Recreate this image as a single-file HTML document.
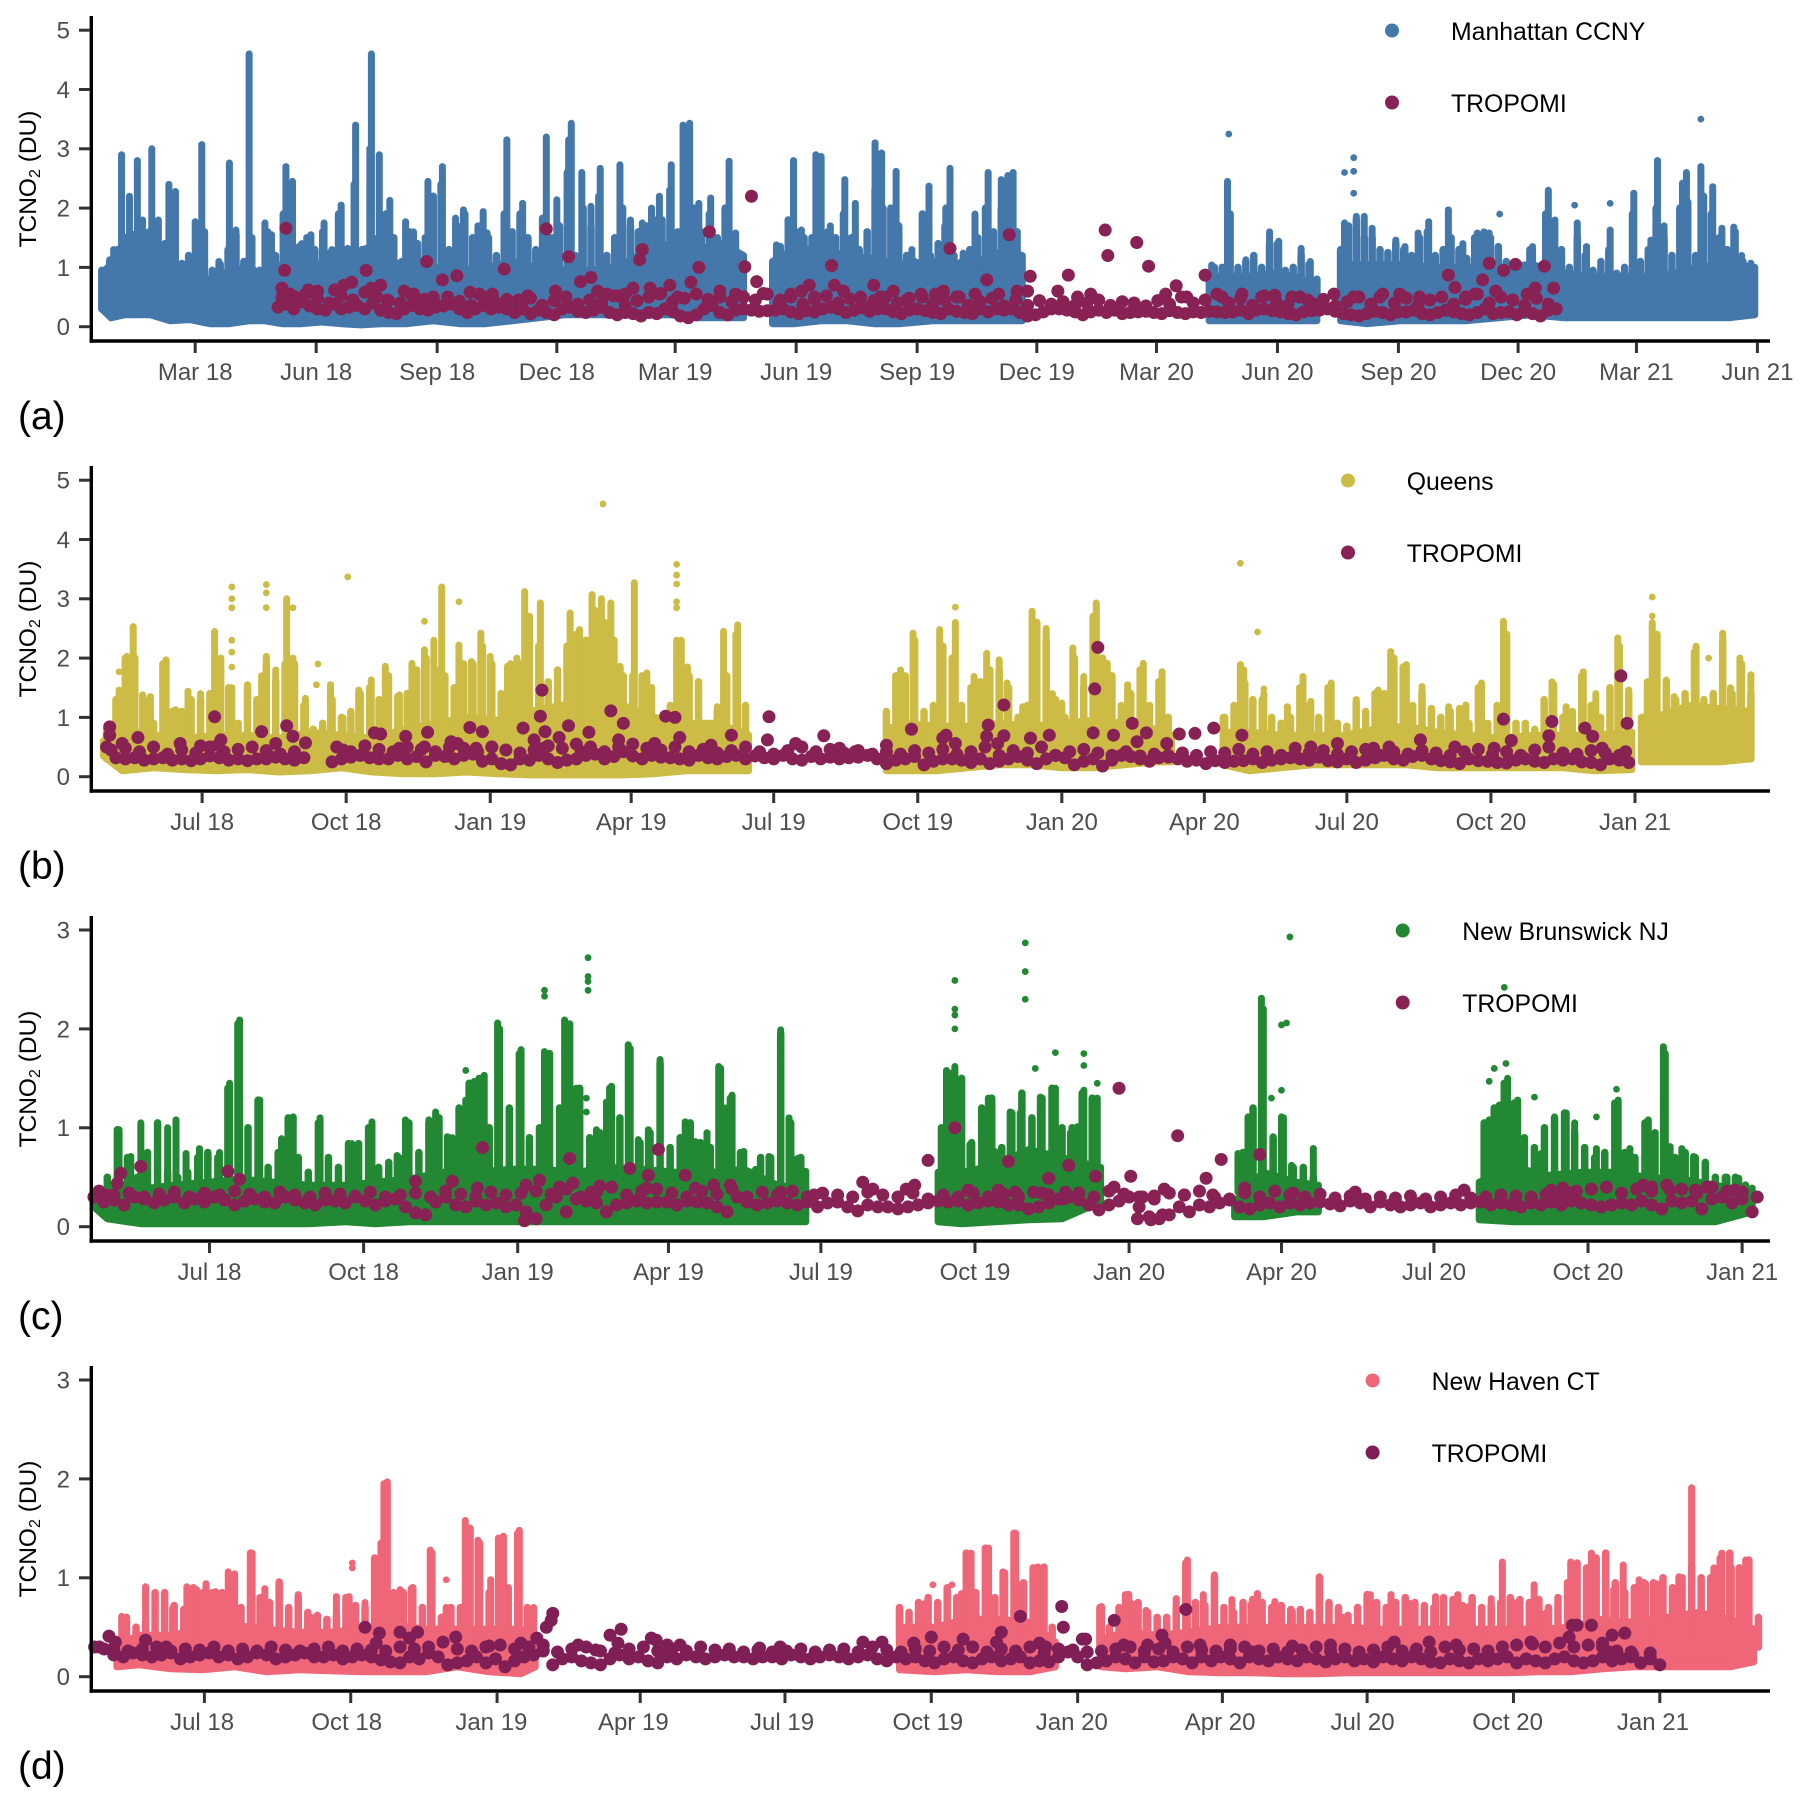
<!DOCTYPE html>
<html lang="en">
<head>
<meta charset="utf-8">
<title>TCNO2 time series at four stations with TROPOMI</title>
<style>
html,body{margin:0;padding:0;background:#fff}
svg{display:block}
text{font-family:"Liberation Sans",Arial,sans-serif}
.tick-label{font-size:24px;fill:#4d4d4d}
.legend-text{font-size:24.8px;fill:#000}
.axis-title{font-size:24.5px;fill:#000}
.panel-tag{font-size:39px;fill:#000}
</style>
</head>
<body>
<svg id="chart" xmlns="http://www.w3.org/2000/svg" width="1806" height="1803" viewBox="0 0 1806 1803">
<rect width="1806" height="1803" fill="#fff"/>

<g id="panel-a">
<g class="marks"></g>
<line x1="91.3" y1="16" x2="91.3" y2="342.7" stroke="#000" stroke-width="3.4"/>
<line x1="89.6" y1="341" x2="1770" y2="341" stroke="#000" stroke-width="3.4"/>
<g class="ticks"></g>
<text class="axis-title" text-anchor="middle" transform="translate(36,179) rotate(-90)">TCNO<tspan font-size="16" dy="4">2</tspan><tspan dy="-4"> (DU)</tspan></text>
<text class="panel-tag" x="18" y="429">(a)</text>
<circle cx="1392" cy="30.5" r="7" fill="#4477AA"/>
<text class="legend-text" x="1451" y="40">Manhattan CCNY</text>
<circle cx="1392" cy="102.5" r="7" fill="#882255"/>
<text class="legend-text" x="1451" y="112">TROPOMI</text>
</g>

<g id="panel-b">
<g class="marks"></g>
<line x1="91.3" y1="466" x2="91.3" y2="792.7" stroke="#000" stroke-width="3.4"/>
<line x1="89.6" y1="791" x2="1770" y2="791" stroke="#000" stroke-width="3.4"/>
<g class="ticks"></g>
<text class="axis-title" text-anchor="middle" transform="translate(36,629) rotate(-90)">TCNO<tspan font-size="16" dy="4">2</tspan><tspan dy="-4"> (DU)</tspan></text>
<text class="panel-tag" x="18" y="879">(b)</text>
<circle cx="1348" cy="480.5" r="7" fill="#CCBB44"/>
<text class="legend-text" x="1406.7" y="490">Queens</text>
<circle cx="1348" cy="552.5" r="7" fill="#882255"/>
<text class="legend-text" x="1406.7" y="562">TROPOMI</text>
</g>

<g id="panel-c">
<g class="marks"></g>
<line x1="91.3" y1="916" x2="91.3" y2="1242.7" stroke="#000" stroke-width="3.4"/>
<line x1="89.6" y1="1241" x2="1770" y2="1241" stroke="#000" stroke-width="3.4"/>
<g class="ticks"></g>
<text class="axis-title" text-anchor="middle" transform="translate(36,1079) rotate(-90)">TCNO<tspan font-size="16" dy="4">2</tspan><tspan dy="-4"> (DU)</tspan></text>
<text class="panel-tag" x="18" y="1329">(c)</text>
<circle cx="1402.7" cy="930.5" r="7" fill="#228833"/>
<text class="legend-text" x="1462.2" y="940">New Brunswick NJ</text>
<circle cx="1402.7" cy="1002.5" r="7" fill="#882255"/>
<text class="legend-text" x="1462.2" y="1012">TROPOMI</text>
</g>

<g id="panel-d">
<g class="marks"></g>
<line x1="91.3" y1="1366" x2="91.3" y2="1692.7" stroke="#000" stroke-width="3.4"/>
<line x1="89.6" y1="1691" x2="1770" y2="1691" stroke="#000" stroke-width="3.4"/>
<g class="ticks"></g>
<text class="axis-title" text-anchor="middle" transform="translate(36,1529) rotate(-90)">TCNO<tspan font-size="16" dy="4">2</tspan><tspan dy="-4"> (DU)</tspan></text>
<text class="panel-tag" x="18" y="1779">(d)</text>
<circle cx="1372.6" cy="1380.5" r="7" fill="#EE6677"/>
<text class="legend-text" x="1431.6" y="1390">New Haven CT</text>
<circle cx="1372.6" cy="1452.5" r="7" fill="#7F1F56"/>
<text class="legend-text" x="1431.6" y="1462">TROPOMI</text>
</g>
</svg>

<script>
// Days are counted from 2018-01-01. Values are TCNO2 in DU.

// ---------- Panel (a) Manhattan CCNY ----------
const aTickDates=["2018-03-01","2018-06-01","2018-09-01","2018-12-01","2019-03-01","2019-06-01","2019-09-01","2019-12-01","2020-03-01","2020-06-01","2020-09-01","2020-12-01","2021-03-01","2021-06-01"];
const aTickLabels=["Mar 18","Jun 18","Sep 18","Dec 18","Mar 19","Jun 19","Sep 19","Dec 19","Mar 20","Jun 20","Sep 20","Dec 20","Mar 21","Jun 21"];
const aValueTicks=[0,1,2,3,4,5];
const aBandDays=[-12,-5,5,15,25,40,55,70,85,100,112,125,140,155,170,185,200,220,240,260,280,300,320,340,360,380,400,420,440,460,476,null,
498,515,535,555,575,595,620,650,675,688,null,830,845,860,880,895,912,null,930,950,975,1000,1025,1050,1075,1100,1125,1150,1175,1200,1225,1245];
const aBandHigh=[.9,1.05,1.15,1.1,1,1,.85,.8,.95,1,.85,1.05,1.1,1.05,.95,1.1,1.1,1.05,1,.95,1,1.1,1,.95,.95,1,1.25,1.4,1.3,1.4,1.2,null,
1.1,1.3,1.3,1.2,1.15,1.05,1.1,1.05,1.3,1.2,null,.85,.85,.85,.9,.85,.7,null,1.05,1.05,1.05,1,1,1,1.05,.9,.85,.85,.85,1,1.05,1];
const aBandLow=[.3,.15,.2,.2,.2,.1,.12,.05,.05,.1,.1,.05,.05,.08,.05,.03,.05,.05,.1,.05,.05,.1,.15,.2,.2,.2,.2,.2,.15,.15,.15,null,
.05,.05,.1,.1,.05,.05,.1,.1,.1,.1,null,.1,.1,.1,.1,.1,.1,null,.1,.05,.1,.1,.1,.15,.2,.15,.15,.15,.15,.15,.15,.2];
const aRidgeStartDay=-12;
const aRidgeStepDays=6;
const aRidgeHigh=[.95,1.1,1.3,1.5,1.55,1.5,1.6,1.3,1.4,1.55,
1.05,1.2,1.7,1.6,.95,1.05,1.3,1.55,1.1,1.5,
.95,1.6,1.2,1.9,1.9,1.35,1.5,1.3,1.6,1.25,
1.9,1.3,2.4,1.3,3,1.5,1.9,1.5,1.1,1.6,
1.4,1.5,2.2,2.4,1.3,1.7,1.9,1.5,1.7,1.5,
1.2,1.9,1.6,1.9,1.5,1.3,1.8,1.5,1.7,2.6,
1.2,2,1.7,2.2,1.2,1.5,2,1.7,1.6,1.7,
1.8,1.8,2.3,1.6,2.8,2,1.6,1.9,1.5,2,
1.5,1.2,null,null,null,null,1.35,1.8,1.6,1.5,
1.5,2,1.6,1.5,1.9,1.5,1.3,1.6,2.3,2,
2,1.7,1.2,1.1,1.9,1.2,1.4,2,1.2,1.1,
1.3,1.5,2,1.6,2,2.2,1.6,null,null,null,
null,null,null,null,null,null,null,null,null,null,
null,null,null,null,null,null,null,null,null,null,
null,1,1,1.9,1,1.1,1.2,1,1.4,1.4,
.95,1,1.2,1.05,.8,null,null,1.3,1.7,1.8,
1.5,1.5,1.3,1.25,1.4,1.3,1.2,1.5,1.6,1.2,
1.3,1.5,1.3,1.15,1.5,1.5,1.5,1.35,1.1,1.05,
1,1.3,1,1.9,1.7,1.3,1,1.5,1.2,.95,
1.1,1.3,.9,1,1.9,1.1,1.3,2,1.5,1.2,
2,2.1,1.2,2.2,1.9,1.5,1.3,1.6,1.1,1.05];
const aSpikeDays=[-6,-3,3,9,15,19,26,31,39,44,
49,59,64,77,85,90,100,112,117,128,
133,140,147,157,163,170,175,181,189,193,
199,207,219,225,236,247,257,263,274,278,
281,296,308,323,326,334,343,345,353,360,
367,382,390,399,406,412,421,430,435,442,
451,465,470,501,514,520,531,535,542,553,
561,576,581,592,604,617,629,633,643,652,
662,672,677,681,685,832,844,858,864,876,
883,893,900,907,933,942,948,954,972,979,
989,997,1012,1023,1034,1039,1043,1076,1088,1093,
1110,1117,1135,1153,1166,1171,1176,1190,1193,1204,
1213,1220,1229,1235,1242];
const aSpikeHigh=[1.13,1.3,2.9,2.2,2.8,1.8,3,1.8,2.4,2.28,
1.07,1.77,3.07,1.1,2.76,1.63,4.6,1.75,1.55,2.7,
2.45,1.4,1.55,1.75,1.3,2.05,1.32,3.4,1.32,4.6,
2.9,2.13,1.77,1.6,2.45,2.7,1.83,1.97,1.7,1.94,
1.58,3.15,2.08,1.83,3.2,2.14,3.15,3.43,2.6,2.03,
2.67,2.73,1.8,1.75,2,2.2,2.73,3.4,3.43,2.08,
2.17,2.79,1.58,1.38,2.8,1.63,2.9,2.87,1.7,2.48,
2.08,3.1,2.93,2.62,1.3,2.37,1.7,2.67,1.24,1.9,
2.6,2.48,2.55,2.6,1.1,1.04,2.45,1.13,1.18,1.6,
1.44,.87,1.32,1.1,1.75,1.86,1.86,1.66,1.46,1.35,
1.58,1.77,1.97,1.4,1.58,1.6,1.58,1.35,2.3,1.8,
1.75,1.35,1.63,2.25,1.46,2.8,1.7,2.42,2.6,2.7,
2.36,1.66,1.68,1.2,1.07];
const aOutlierDays=[845,933,940,940,940,1204,1051,1108,1135,1012,1153,1171];
const aOutlierValues=[3.25,2.6,2.85,2.62,2.25,3.5,1.9,2.05,2.08,1.97,2.25,2.8];
const aSatStartDay=122;
const aSatStepDays=6;
const aSatBase=[.33,.38,.3,.42,.35,.3,.28,.38,.3,.33,
.36,.3,.4,.28,.24,.22,.3,.36,.3,.28,
.33,.35,.38,.3,.24,.3,.36,.3,.33,.3,
.24,.3,.22,.28,.24,.2,.3,.33,.26,.24,
.28,.33,.24,.2,.24,.22,.18,.24,.22,.3,
.26,.18,.15,.2,.3,.36,.24,.2,.28,.3,
.28,.26,.27,.28,.3,.25,.22,.27,.25,.3,
.33,.3,.24,.28,.32,.26,.3,.3,.25,.22,
.28,.3,.27,.24,.22,.3,.26,.24,.22,.3,
.25,.3,.28,.3,.24,.18,.2,.25,.3,.3,
.28,.25,.2,.25,.28,.24,.28,.22,.24,.25,
.26,.24,.22,.27,.24,.22,.25,.24,.26,.25,
.24,.25,.28,.22,.28,.3,.27,.25,.22,.2,
.25,.27,.28,.3,.26,.22,.2,.18,.22,.26,
.24,.2,.25,.25,.28,.22,.2,.24,.28,.25,
.22,.2,.24,.3,.22,.24,.25,.2,.26,.22,
.18,.28,.3];
const aSatUpperStartDay=125;
const aSatUpperStepDays=9;
const aSatUpper=[.5,.42,.55,.48,.4,.52,.45,.58,.5,.44,
.4,.52,.46,.38,.5,.43,.36,.5,.42,.46,
.4,.48,.36,.44,.5,.38,.45,.4,.52,.36,
.44,.5,.56,.42,.48,.55,.46,.6,.42,.5,
.45,.55,.4,.5,.38,.46,.52,.4,.47,.36,
.44,.5,.4,.48,.55,.38,.45,.5,.36,.42,
.48,.35,.45,.36,.44,.38,.42,.36,.4,.45,
.36,.42,.4,.35,.44,.38,.5,.4,.45,.55,
.4,.48,.36,.52,.42,.36,.5,.4,.46,.35,
.42,.5,.38,.55,.4,.48,.36,.45,.5,.38,
.46,.55,.4,.5,.45,.36,.48,.38];
const aSatExtraDays=[128,127,125,131,135,145,152,165,172,178,
189,193,196,200,205,218,225,228,235,240,
247,258,268,275,294,285,305,312,326,333,
343,352,360,365,372,380,386,392,397,399,
405,412,420,426,442,450,436,458,470,477,
482,486,491,504,512,520,526,530,543,545,
552,565,575,580,590,600,612,622,633,628,
640,652,661,670,678,684,694,692,723,715,
730,740,751,753,775,784,805,797,813,827,
840,855,870,880,893,905,925,940,960,975,
990,1012,1017,1038,1043,1054,1063,1085,1092,1048,
1072,1078,1032,1025];
const aSatExtraValues=[1.66,.95,.65,.55,.5,.62,.6,.62,.7,.75,
.95,.65,.5,.7,.45,.6,.55,.45,1.1,.5,
.79,.86,.58,.55,.97,.55,.45,.52,1.65,.6,
1.18,.76,.83,.6,.55,.52,.55,.65,1.13,1.3,
.65,.55,.7,.5,1,1.6,.75,.5,.55,1.01,
2.2,.76,.56,.45,.55,.6,.7,.5,1.03,.7,
.6,.5,.7,.5,.6,.45,.5,.55,1.32,.6,
.5,.55,.79,.55,1.55,.6,.85,.6,.87,.6,
.5,.55,1.63,1.2,1.42,1.02,.69,.55,.5,.87,
.5,.55,.5,.53,.5,.45,.55,.5,.5,.55,
.5,.87,.66,.79,1.07,.95,1.05,1.02,.65,.6,
.55,.65,.55,.5];

// ---------- Panel (b) Queens ----------
const bTickDates=["2018-07-01","2018-10-01","2019-01-01","2019-04-01","2019-07-01","2019-10-01","2020-01-01","2020-04-01","2020-07-01","2020-10-01","2021-01-01"];
const bTickLabels=["Jul 18","Oct 18","Jan 19","Apr 19","Jul 19","Oct 19","Jan 20","Apr 20","Jul 20","Oct 20","Jan 21"];
const bValueTicks=[0,1,2,3,4,5];
const bBandDays=[118,130,150,170,190,210,230,250,270,290,310,330,350,370,390,410,430,450,470,490,510,530,null,
618,630,650,670,690,710,730,750,770,790,800,null,833,850,870,890,910,930,950,970,990,1010,1030,1050,1070,1094,null,1100,1115,1130,1150,1170];
const bBandHigh=[.6,.8,.7,.65,.7,.7,.65,.75,.7,.65,.8,.9,1,.95,1.1,1.2,1.3,1.2,1,.9,.9,.7,null,
.8,.9,.85,.85,.9,.85,.9,.95,.9,.8,.7,null,.75,.75,.7,.7,.7,.8,.85,.75,.7,.65,.7,.7,.7,.75,null,1,1.05,1.2,1.15,1.1];
const bBandLow=[.35,.1,.15,.12,.1,.12,.08,.1,.15,.08,.05,.05,.08,.05,.03,.03,.03,.03,.05,.1,.1,.1,null,
.1,.1,.1,.15,.2,.2,.15,.15,.2,.25,.25,null,.2,.1,.15,.2,.2,.2,.2,.15,.15,.15,.15,.15,.1,.12,null,.25,.25,.25,.25,.3];
const bRidgeStartDay=120;
const bRidgeStepDays=6;
const bRidgeHigh=[.8,1.3,2,2,1.3,.9,1.9,1.1,1.1,1.3,
1.3,1.4,1.9,1.5,.9,1.5,1.3,1.9,1.6,1.9,
1.9,1.2,.8,.9,1.3,1,1.1,1.4,1.5,1.3,
1.7,1.35,1.4,1.8,2,1.8,1.7,1.5,1.9,1.9,
2.2,1.9,1.4,1.9,1.9,2.7,2.2,1.6,1.8,2.2,
2.4,2.3,2.8,2.6,2.3,1.7,1.7,1.7,1.5,.9,
1.2,2.2,1.7,1.6,.8,1.1,1.7,2.4,1.2,null,
null,null,null,null,null,null,null,null,null,null,
null,null,null,1.1,1.7,1.7,2.3,1.1,1.2,2.2,
2,1.2,1.5,1.6,1.8,1.8,1.5,1,1.2,2.6,
2.3,1.3,1,2,1.5,2.7,2,1.7,1.2,1.4,
1.8,1.2,1.6,1,null,null,null,null,null,1,
1.2,1.8,1.3,1.3,1,.9,1,1.5,1.2,1,
1.5,.9,.85,1.25,1.1,1.4,1.4,2,1.85,1.2,
1.4,1.15,1,1.1,1.15,.9,1.5,.9,1.2,2.4,
.9,.9,.8,1.3,1.55,1,1.1,1.7,1.2,1,
1.5,2.2,1.4,null,1.6,2.4,1.6,1.3,1.4,2.1,
1.3,1.4,2.3,1.4,1.9,1.4];
const bSpikeDays=[128,133,137,143,148,158,164,172,180,189,
193,200,210,219,222,228,235,239,247,263,
271,281,289,298,307,315,323,329,334,345,
353,359,365,376,382,387,397,416,422,430,
436,442,448,457,465,484,487,491,510,514,
523,528,627,635,652,662,674,682,690,695,
705,711,720,724,730,737,744,752,759,772,
782,794,833,844,847,859,874,884,889,902,
918,932,940,950,960,977,988,998,1012,1043,
1052,1063,1071,1085,1092,1107,1116,1121,1135,1152,
1157,1163,1170];
const bSpikeHigh=[1.46,2.03,2.53,1.38,1.35,1.97,1.13,1.44,1.4,2.45,
2,1.5,1.55,1.7,2.03,1.8,3,2,1.32,1.55,
.99,1.46,1.63,1.86,1.38,1.91,2.14,2.3,3.2,2.22,
1.94,2.42,2.03,1.86,2,3.12,2.93,2.76,2.48,3.07,
3,2.93,1.86,3.27,1.75,2.3,2.3,1.85,1.18,2.45,
2.56,1.07,1.8,2.42,2.48,2.6,1.69,2.08,1.97,1.58,
1.18,2.79,2.5,1.4,1.24,2.17,1.69,2.93,1.91,1.55,
1.91,1.77,1,1.89,1.58,1.4,1.18,1.69,1.27,1.58,
1.3,1.46,2.11,1.89,1.52,1.18,1.21,1.58,2.62,1.6,
1.18,1.77,1.4,2.34,1.46,2.6,1.63,1.35,2.2,2.42,
1.5,2,1.72];
const bOutlierDays=[128,200,200,200,200,200,200,222,222,222,
239,274,254,255,323,345,437,484,484,484,
484,484,844,855,662,1107,1107,1143,859];
const bOutlierValues=[1.77,3.2,3,2.85,2.3,2.1,1.85,3.24,3.1,2.85,
2.85,3.37,1.55,1.9,2.62,2.95,4.6,3.58,3.4,3.25,
2.95,2.85,3.6,2.44,2.86,3.03,2.71,2,1.48];
const bSatStartDay=120;
const bSatStepDays=6;
const bSatBase=[.5,.32,.3,.32,.28,.3,.32,.28,.3,.27,
.3,.35,.32,.28,.3,.27,.3,.3,.33,.3,
.28,.32,null,null,.25,.3,.33,.36,.32,.3,
.3,.36,.3,.34,.25,.36,.34,.3,.36,.38,
.26,.3,.22,.2,.3,.28,.36,.3,.24,.28,
.3,.36,.38,.3,.34,.42,.35,.3,.36,.33,
.32,.3,.28,.36,.32,.3,.34,.36,.3,.35,
.32,.3,.36,.3,.28,.34,.3,.33,.3,.32,
.33,.36,.3,.22,.28,.3,.34,.2,.26,.3,
.3,.28,.24,.3,.22,.26,.3,.34,.28,.22,
.3,.36,.32,.2,.26,.3,.18,.28,.36,.34,
.3,.26,.32,.33,.3,.26,.28,.22,.27,.24,
.26,.27,.3,.24,.28,.3,.32,.3,.28,.33,
.27,.25,.3,.24,.28,.32,.36,.3,.28,.34,
.36,.3,.27,.25,.22,.3,.27,.26,.24,.23,
.28,.3,.26,.24,.3,.28,.3,.25,.24,.2,
.3,.28,.24];
const bSatUpperStartDay=123;
const bSatUpperStepDays=9;
const bSatUpper=[.45,.48,.42,.5,.38,.45,.4,.5,.42,.46,
.5,.44,.38,.42,null,null,.5,.42,.52,.46,
.42,.5,.46,.42,.5,.48,.42,.5,.45,.4,
.45,.52,.48,.55,.5,.42,.5,.55,.48,.45,
.5,.42,.46,.4,.44,.5,.42,.38,.44,.5,
.42,.46,.4,.44,.38,.42,.38,.44,.4,.46,
.38,.42,.5,.36,.44,.4,.5,.36,.42,.46,
.4,.36,.42,.35,.38,.36,.4,.36,.42,.4,
.46,.38,.42,.36,.48,.4,.44,.38,.42,.46,
.36,.42,.38,.44,.4,.36,.42,.46,.38,.42,
.36,.45,.5,.4,.38,.44,.4,.36];
const bSatExtraDays=[122,122,130,140,167,180,189,193,191,219,
228,235,239,247,271,291,295,311,307,325,
323,340,344,352,360,366,356,386,398,397,
400,393,399,409,415,428,423,442,450,447,
470,477,483,486,506,519,542,543,560,578,
588,598,618,634,654,662,656,683,682,693,
693,689,710,722,753,751,750,763,775,784,
778,797,805,815,827,845,889,906,929,939,
959,981,1006,1012,1017,1041,1043,1064,1069,1075,
1087,1091,1090];
const bSatExtraValues=[.84,.7,.56,.66,.56,.52,1.01,.62,.53,.76,
.56,.86,.68,.57,.45,.74,.72,.68,.48,.75,
.5,.59,.56,.83,.76,.5,.48,.82,1.46,1.02,
.76,.62,.48,.66,.86,.75,.42,1.11,.9,.62,
.56,1.02,1,.66,.53,.7,.62,1.01,.56,.69,
.48,.42,.53,.8,.65,.56,.7,.87,.68,1.21,
.69,.56,.65,.7,2.18,1.48,.74,.7,.9,.74,
.59,.56,.72,.73,.82,.7,.5,.56,.48,.5,
.62,.5,.48,.97,.61,.69,.93,.82,.68,.48,
1.7,.9,.42];

// ---------- Panel (c) New Brunswick NJ ----------
const cTickDates=["2018-07-01","2018-10-01","2019-01-01","2019-04-01","2019-07-01","2019-10-01","2020-01-01","2020-04-01","2020-07-01","2020-10-01","2021-01-01"];
const cTickLabels=["Jul 18","Oct 18","Jan 19","Apr 19","Jul 19","Oct 19","Jan 20","Apr 20","Jul 20","Oct 20","Jan 21"];
const cValueTicks=[0,1,2,3];
const cBandDays=[112,120,140,160,180,200,220,240,262,280,300,320,340,360,380,400,420,440,460,480,500,520,537,null,
616,630,650,670,690,713,null,793,810,830,843,null,939,960,980,1000,1020,1040,1060,1080,1102];
const cBandHigh=[.28,.38,.38,.42,.45,.48,.45,.42,.42,.45,.48,.55,.55,.58,.58,.55,.6,.58,.55,.55,.58,.42,.38,null,
.55,.55,.62,.78,.7,.6,null,.25,.55,.45,.42,null,.45,.6,.52,.55,.55,.5,.48,.42,.35];
const cBandLow=[.2,.08,.03,.03,.03,.03,.03,.03,.05,.03,.05,.05,.05,.05,.05,.05,.05,.05,.05,.05,.05,.05,.05,null,
.05,.03,.05,.07,.08,.25,null,.1,.1,.15,.15,null,.07,.05,.05,.05,.05,.05,.05,.05,.15];
const cRidgeStartDay=114;
const cRidgeStepDays=6;
const cRidgeHigh=[.3,.5,.98,.7,.5,.75,1.05,.55,.5,.55,
.7,.75,.7,1.4,2.05,1,1.28,.6,.75,1.1,
.7,.55,1.05,.7,.6,.84,.84,1,.6,.65,
.7,1.05,.75,1.05,1.1,.9,1.2,1.45,1.5,1,
2,1.2,1.75,.9,1,1.75,1.2,2.05,1.4,.9,
.95,1.4,1.1,1.8,.85,.95,1.65,.8,.9,1.05,
.85,.8,1.6,1.3,.75,.55,.7,.7,1.95,1.05,
.7,null,null,null,null,null,null,null,null,null,
null,null,null,null,1,1.55,1.5,.85,1.2,1.3,
.8,1.15,1.35,1.1,1.3,1.4,1,1,1.35,1.3,
null,null,null,null,null,null,null,null,null,null,
null,null,null,null,.75,1.2,2.2,.9,1.1,.6,
.6,.5,null,null,null,null,null,null,null,null,
null,null,null,null,null,null,null,null,1.05,1.2,
1.45,1.25,.9,.8,1,1.1,1.15,.95,.8,.7,
.75,1.25,.75,.7,1.05,.95,1.75,.7,.75,.7,
.65,.5,.5,.5,.42];
const cSpikeDays=[127,134,140,150,156,161,167,175,187,193,
199,211,224,231,247,266,270,278,293,298,
312,316,323,326,334,339,345,353,360,367,
381,393,400,412,418,421,431,437,443,450,
465,471,478,485,489,493,500,507,515,522,
527,532,537,621,626,635,646,650,659,665,
677,686,695,699,703,711,795,801,809,816,
821,827,840,945,951,956,962,976,984,991,
996,1009,1022,1029,1040,1049,1053,1060,1067,1074,
1087,1094,1102];
const cSpikeHigh=[.98,.71,1.05,.5,1,1.08,.74,.79,.75,1.45,
2.09,1.28,.89,1.11,1.1,.84,.84,1.06,.72,1.08,
1.08,1.16,.91,.9,1.28,1.47,1.53,2.06,1.2,1.79,
1.77,2.09,1.4,.98,1.26,1.42,1.84,.88,.98,1.69,
1.06,.86,.95,1.62,1.2,1.33,.76,.58,.71,1.99,
1.1,.69,.56,1.58,1.62,.83,1.3,.76,1.16,1.15,
1.31,1.4,.95,1.01,1.38,1.3,.74,1.11,2.31,.91,
1.11,.62,.79,1.08,1.23,1.5,1.28,.74,1.11,1.15,
1.05,.79,1.28,.79,1.08,1.82,.81,.79,.71,.53,
.5,.49,.39];
const cOutlierDays=[381,381,407,407,407,407,406,406,334,522,
522,626,626,626,626,668,668,668,674,686,
703,703,711,826,821,824,815,821,840,945,
948,955,954,972,1009,1021,1049,1049,1049];
const cOutlierValues=[2.39,2.33,2.72,2.53,2.48,2.39,1.3,1.16,1.58,1.75,
1.58,2.49,2.2,2.14,2,2.87,2.58,2.3,1.6,1.76,
1.75,1.63,1.45,2.93,2.04,2.06,1.3,1.38,.79,1.47,
1.6,1.65,2.42,1.31,1.11,1.39,1.68,1.57,1.42];
const cSatStartDay=112;
const cSatStepDays=6;
const cSatBase=[.3,.25,.27,.22,.3,.28,.24,.27,.3,.24,
.28,.25,.3,.27,.22,.26,.28,.25,.24,.3,
.27,.24,.22,.27,.26,.24,.3,.26,.22,.26,
.28,.2,.14,.12,.25,.3,.22,.2,.26,.22,
.24,.2,.22,.15,.08,.22,.3,.15,.28,.26,
.24,.15,.22,.24,.26,.24,.25,.25,.22,.26,
.25,.24,.2,.15,.3,.25,.22,.24,.26,.24,
.22,.25,.2,.24,.25,.2,.16,.22,.2,.2,
.18,.2,.22,.24,.26,.25,.26,.22,.24,.26,
.25,.22,.22,.18,.2,.24,.28,.3,.27,.22,
.17,.22,.26,.3,.2,.1,.08,.12,.2,.15,
.22,.2,.24,.27,.2,.18,.22,.24,.2,.24,
.22,.24,.25,.23,.21,.26,.24,.2,.25,.22,
.2,.22,.24,.2,.22,.24,.22,.24,.25,.22,
.24,.22,.2,.24,.22,.25,.22,.26,.24,.22,
.2,.22,.24,.22,.26,.22,.18,.26,.24,.26,
.18,.28,.3,.24,.28,.15];
const cSatUpperStartDay=115;
const cSatUpperStepDays=9;
const cSatUpper=[.36,.32,.34,.3,.33,.35,.3,.34,.32,.36,
.33,.3,.35,.32,.3,.34,.33,.31,.35,.3,
.32,.34,.3,.36,.33,.3,.35,.32,.34,.36,
.33,.38,.3,.35,.4,.32,.36,.38,.34,.3,
.36,.33,.38,.3,.35,.32,.36,.3,.34,.32,
.3,.35,.32,.3,.34,.28,.32,.3,.34,.3,
.33,.3,.35,.32,.28,.34,.3,.36,.33,.3,
.28,.34,.32,.36,.3,.28,.34,.3,.36,.32,
.3,.33,.29,.31,.28,.3,.29,.31,.28,.3,
.32,.29,.3,.28,.31,.3,.33,.29,.36,.38,
.4,.34,.38,.36,.42,.38,.34,.4,.36,.35,
.3];
const cSatExtraDays=[119,128,126,140,192,199,304,326,341,344,
370,378,390,396,398,414,409,432,442,443,
449,465,471,482,492,522,542,571,577,369,
597,602,610,626,634,652,658,662,682,678,
694,692,710,721,724,731,751,745,738,759,
763,776,785,780,799,808,828,865,930,952,
982,989,994,1037,1042,1053,1068,1075,1092,735,
743,750];
const cSatExtraValues=[.32,.54,.44,.61,.56,.48,.46,.46,.39,.8,
.42,.47,.4,.69,.44,.41,.35,.59,.39,.52,
.78,.52,.39,.42,.42,.35,.32,.45,.38,.06,
.38,.42,.67,1,.37,.37,.66,.35,.49,.34,
.62,.35,.51,.4,1.4,.51,.38,.31,.3,.92,
.32,.49,.68,.32,.39,.73,.34,.35,.37,.32,
.37,.39,.34,.42,.4,.37,.37,.4,.37,.08,
.07,.12];

// ---------- Panel (d) New Haven CT ----------
const dTickDates=["2018-07-01","2018-10-01","2019-01-01","2019-04-01","2019-07-01","2019-10-01","2020-01-01","2020-04-01","2020-07-01","2020-10-01","2021-01-01"];
const dTickLabels=["Jul 18","Oct 18","Jan 19","Apr 19","Jul 19","Oct 19","Jan 20","Apr 20","Jul 20","Oct 20","Jan 21"];
const dValueTicks=[0,1,2,3];
const dBandDays=[126,140,160,180,200,220,240,260,280,300,320,340,360,380,389,null,618,640,660,680,700,716,null,
745,760,780,800,820,840,860,880,900,920,940,960,980,1000,1020,1040,1060,1080,1100,1120,1140,1155];
const dBandHigh=[.32,.42,.42,.48,.52,.48,.45,.45,.48,.52,.48,.48,.48,.48,.42,null,.5,.5,.58,.58,.55,.35,null,
.38,.45,.42,.45,.5,.5,.5,.5,.5,.48,.48,.48,.48,.48,.48,.5,.58,.55,.6,.65,.58,.48];
const dBandLow=[.1,.12,.08,.07,.1,.05,.07,.06,.05,.05,.05,.1,.05,.03,.1,null,.07,.05,.07,.05,.05,.1,null,
.1,.08,.1,.05,.04,.04,.03,.03,.04,.04,.04,.04,.04,.04,.05,.05,.08,.1,.1,.1,.1,.15];
const dRidgeStartDay=126;
const dRidgeStepDays=6;
const dRidgeHigh=[.35,.6,.5,.55,.85,.85,.72,.68,.9,.85,
.85,.85,.95,.7,1.25,.8,.75,.95,.7,.8,
.65,.62,.58,.62,.8,.72,.7,1.2,1.95,.85,
.85,.9,.7,1.25,.6,.7,.7,1.5,1.35,.85,
1.4,.9,1.45,.7,null,null,null,null,null,null,
null,null,null,null,null,null,null,null,null,null,
null,null,null,null,null,null,null,null,null,null,
null,null,null,null,null,null,null,null,null,null,
null,null,.7,.65,.75,.8,.75,.9,.8,1.25,
.85,1.3,.8,1.05,1.45,.95,1.1,1.1,.5,null,
null,null,null,.7,.5,.7,.83,.75,.65,.6,
.6,.7,1.15,.75,.72,1,.7,.65,.75,.78,
.75,.7,.72,.68,.68,.65,1,.75,.7,.62,
.7,.83,.75,.7,.75,.8,.75,.72,.7,.8,
.78,.72,.8,.7,.72,.75,.8,.78,.75,.78,
.7,.8,.95,1.15,1.1,1.2,1.25,.95,.85,.9,
.95,.95,1,.9,1,1.1,1,1,1.2,1.25,
1.1,1.18,.6];
const dSpikeDays=[129,144,161,170,176,182,188,196,200,211,
219,228,240,248,264,272,282,292,296,304,
311,323,333,345,353,361,369,379,388,618,
634,657,663,674,683,691,694,705,709,745,
760,764,773,792,799,809,816,827,839,843,
854,865,882,897,914,927,939,955,969,976,
990,997,1004,1017,1024,1040,1053,1067,1073,1083,
1087,1094,1108,1116,1130,1135,1141,1150];
const dSpikeHigh=[.61,.91,.69,.91,.88,.94,.86,1.06,1.04,1.25,
.89,.96,.83,.6,.81,.81,.75,1.35,1.97,.88,
.89,1.28,.7,1.58,1.38,.98,1.42,1.48,.7,.69,
.74,.84,1.25,1.3,1.06,1.45,.93,1.11,1.11,.71,
.83,.74,.67,.79,1.18,.83,1.03,.78,.73,.84,
.76,.66,1.01,.6,.83,.83,.74,.81,.83,.71,
.79,1.16,.75,.93,.64,1.16,1.25,.88,1.13,.98,
.94,.94,1.01,1.91,1.1,1.25,1.1,1.18];
const dOutlierDays=[333,274,274,639,651,843,927,882,882];
const dOutlierValues=[.98,1.15,1.1,.93,.93,.84,.83,1.01,.92];
const dSatStartDay=112;
const dSatStepDays=6;
const dSatBase=[.3,.28,.22,.2,.24,.22,.2,.22,.24,.18,
.2,.22,.24,.2,.22,.18,.2,.24,.22,.18,
.2,.22,.24,.2,.2,.22,.18,.2,.22,.2,
.17,.15,.14,.2,.18,.24,.2,.12,.14,.16,
.2,.14,.18,.1,.16,.2,.22,.26,.12,.18,
.2,.16,.14,.12,.18,.22,.18,.2,.16,.14,
.2,.18,.22,.2,.18,.2,.22,.2,.2,.18,
.2,.2,.18,.22,.2,.18,.2,.22,.2,.18,
.2,.22,.18,.16,.2,.18,.2,.16,.14,.18,
.2,.16,.14,.18,.2,.16,.18,.2,.14,.16,
.15,.2,.25,.2,.12,.14,.16,.2,.18,.14,
.2,.15,.16,.2,.18,.14,.2,.16,.2,.18,
.14,.2,.18,.16,.2,.18,.16,.2,.18,.15,
.18,.2,.16,.18,.15,.2,.18,.16,.2,.18,
.15,.14,.18,.16,.14,.18,.16,.18,.2,.14,
.18,.16,.14,.18,.2,.16,.14,.16,.2,.16,
.18,.2,.14,.18,.12];
const dSatUpperStartDay=115;
const dSatUpperStepDays=9;
const dSatUpper=[.3,.28,.26,.28,.3,.26,.28,.27,.3,.26,
.28,.26,.3,.27,.26,.28,.3,.26,.28,.27,
.26,.3,.28,.3,.35,.28,.26,.3,.32,.28,
.3,.27,.25,.28,.3,.26,.24,.28,.3,.26,
.28,.26,.3,.27,.28,.25,.27,.25,.26,.28,
.25,.27,.28,.25,.3,.27,.25,.28,.26,.3,
.27,.3,.25,.28,.26,.3,.24,.28,.27,.25,
.26,.28,.3,.26,.28,.25,.3,.27,.26,.28,
.3,.26,.28,.25,.27,.3,.26,.28,.25,.27,
.3,.26,.28,.25,.3,.27,.28,.26,.3,.32,
.35,.3,.34,.3,.32,.3,.26,.25];
const dSatExtraDays=[121,125,144,157,282,291,289,304,315,310,
339,360,380,390,396,399,400,394,416,427,
436,443,441,462,465,472,480,530,543,595,
607,638,627,658,682,679,694,706,710,720,
721,733,735,753,759,774,783,785,798,807,
826,840,865,889,929,951,968,1016,1041,1044,
1039,1053,1066,1060,1074,1064,1079,1090,1090];
const dSatExtraValues=[.41,.35,.37,.3,.5,.44,.34,.45,.45,.39,
.4,.31,.34,.39,.5,.57,.64,.32,.32,.27,
.42,.48,.34,.39,.37,.32,.32,.29,.3,.35,
.35,.4,.34,.38,.45,.35,.61,.34,.3,.71,
.5,.38,.38,.57,.32,.32,.42,.34,.68,.32,
.32,.25,.31,.32,.35,.35,.32,.33,.52,.52,
.4,.52,.42,.34,.44,.25,.22,.24,.19];

// ---------- Shared drawing ----------
const SVG_NS='http://www.w3.org/2000/svg';
function make(tag,attrs,parent){
  const el=document.createElementNS(SVG_NS,tag);
  for(const k in attrs){el.setAttribute(k,attrs[k]);}
  parent.appendChild(el);
  return el;
}
function dayOf(dateString){
  const p=dateString.split('-');
  return (Date.UTC(+p[0],+p[1]-1,+p[2])-Date.UTC(2018,0,1))/86400000;
}
function drawPanel(c){
  const root=document.getElementById(c.id);
  const marks=root.querySelector('.marks');
  const ticks=root.querySelector('.ticks');
  const xOf=function(day){return c.xRef+(day-c.dayRef)*c.pxPerDay;};
  const yOf=function(v){return c.yZero-v*c.pxPerUnit;};

  // Dense station band (split on nulls)
  let top=[],bottom=[];
  const flush=function(){
    if(!top.length)return;
    const d='M'+top.join('L')+'L'+bottom.reverse().join('L')+'Z';
    const band=make('path',{d:d,fill:c.color,stroke:c.color,'stroke-width':7,'stroke-linejoin':'round'},marks);
    
    
    top=[];bottom=[];
  };
  c.bandDays.forEach(function(day,i){
    if(day===null){flush();return;}
    top.push(xOf(day).toFixed(1)+' '+yOf(c.bandHigh[i]).toFixed(1));
    bottom.push(xOf(day).toFixed(1)+' '+yOf(c.bandLow[i]).toFixed(1));
  });
  flush();

  // Dense station columns at a fixed time step
  c.ridgeHigh.forEach(function(v,i){
    if(v===null)return;
    const x=xOf(c.ridgeStart+i*c.ridgeStep);
    const col=make('line',{x1:x,x2:x,y1:yOf(Math.min(.3,v)),y2:yOf(v),stroke:c.color,'stroke-width':7.5,'stroke-linecap':'round'},marks);
    
    
  });

  // Station peaks: vertical runs of readings
  c.spikeDays.forEach(function(day,i){
    const x=xOf(day);
    const spike=make('line',{x1:x,x2:x,y1:yOf(Math.min(.35,c.spikeHigh[i])),y2:yOf(c.spikeHigh[i]),stroke:c.color,'stroke-width':7,'stroke-linecap':'round'},marks);
    
    
  });

  // Isolated station readings
  c.outlierDays.forEach(function(day,i){
    const dot=make('circle',{cx:xOf(day),cy:yOf(c.outlierValues[i]),r:3.4,fill:c.color},marks);
    
    
  });

  // TROPOMI points
  c.satUpper.forEach(function(v,i){
    if(v===null)return;
    const dot=make('circle',{cx:xOf(c.satUpperStart+i*c.satUpperStep),cy:yOf(v),r:6.5,fill:c.satColor},marks);
    
    
  });
  c.satBase.forEach(function(v,i){
    if(v===null)return;
    const dot=make('circle',{cx:xOf(c.satStart+i*c.satStep),cy:yOf(v),r:6.5,fill:c.satColor},marks);
    
    
  });
  c.satExtraDays.forEach(function(day,i){
    const dot=make('circle',{cx:xOf(day),cy:yOf(c.satExtraValues[i]),r:6.5,fill:c.satColor},marks);
    
    
  });

  // X axis ticks
  c.tickDates.forEach(function(date,i){
    const x=xOf(dayOf(date));
    const mark=make('line',{x1:x,x2:x,y1:c.yAxis+1,y2:c.yAxis+12,stroke:'#333','stroke-width':3},ticks);
    
    
    const shift=c.labelShift?c.labelShift[i]:0;
    const label=make('text',{x:x+shift,y:c.yAxis+39,'text-anchor':'middle','class':'tick-label'},ticks);
    label.textContent=c.tickLabels[i];
    
    
  });

  // Y axis ticks
  c.valueTicks.forEach(function(v){
    const y=yOf(v);
    const mark=make('line',{x1:79,x2:90,y1:y,y2:y,stroke:'#333','stroke-width':3},ticks);
    
    
    const label=make('text',{x:70,y:y+8.4,'text-anchor':'end','class':'tick-label'},ticks);
    label.textContent=String(v);
    
    
  });
}

drawPanel({id:'panel-a',color:'#4477AA',satColor:'#882255',xRef:195.2,dayRef:59,pxPerDay:1.315,yZero:326.7,pxPerUnit:59.3,yAxis:341,
  tickDates:aTickDates,tickLabels:aTickLabels,valueTicks:aValueTicks,bandDays:aBandDays,bandHigh:aBandHigh,bandLow:aBandLow,
  ridgeStart:aRidgeStartDay,ridgeStep:aRidgeStepDays,ridgeHigh:aRidgeHigh,
  spikeDays:aSpikeDays,spikeHigh:aSpikeHigh,outlierDays:aOutlierDays,outlierValues:aOutlierValues,
  satStart:aSatStartDay,satStep:aSatStepDays,satBase:aSatBase,satUpperStart:aSatUpperStartDay,satUpperStep:aSatUpperStepDays,satUpper:aSatUpper,satExtraDays:aSatExtraDays,satExtraValues:aSatExtraValues});
drawPanel({id:'panel-b',color:'#CCBB44',satColor:'#882255',xRef:202.1,dayRef:181,pxPerDay:1.566,yZero:776.7,pxPerUnit:59.3,yAxis:791,
  tickDates:bTickDates,tickLabels:bTickLabels,valueTicks:bValueTicks,bandDays:bBandDays,bandHigh:bBandHigh,bandLow:bBandLow,
  ridgeStart:bRidgeStartDay,ridgeStep:bRidgeStepDays,ridgeHigh:bRidgeHigh,
  spikeDays:bSpikeDays,spikeHigh:bSpikeHigh,outlierDays:bOutlierDays,outlierValues:bOutlierValues,
  satStart:bSatStartDay,satStep:bSatStepDays,satBase:bSatBase,satUpperStart:bSatUpperStartDay,satUpperStep:bSatUpperStepDays,satUpper:bSatUpper,satExtraDays:bSatExtraDays,satExtraValues:bSatExtraValues});
drawPanel({id:'panel-c',color:'#228833',satColor:'#882255',xRef:209.5,dayRef:181,pxPerDay:1.675,yZero:1226.7,pxPerUnit:98.9,yAxis:1241,
  tickDates:cTickDates,tickLabels:cTickLabels,valueTicks:cValueTicks,bandDays:cBandDays,bandHigh:cBandHigh,bandLow:cBandLow,
  ridgeStart:cRidgeStartDay,ridgeStep:cRidgeStepDays,ridgeHigh:cRidgeHigh,
  spikeDays:cSpikeDays,spikeHigh:cSpikeHigh,outlierDays:cOutlierDays,outlierValues:cOutlierValues,
  satStart:cSatStartDay,satStep:cSatStepDays,satBase:cSatBase,satUpperStart:cSatUpperStartDay,satUpperStep:cSatUpperStepDays,satUpper:cSatUpper,satExtraDays:cSatExtraDays,satExtraValues:cSatExtraValues});
drawPanel({id:'panel-d',color:'#EE6677',satColor:'#7F1F56',xRef:204.4,dayRef:181,pxPerDay:1.5906,yZero:1676.7,pxPerUnit:98.9,yAxis:1691,
  labelShift:[-2.3,-4,-5.7,-6.9,-2.9,-3.5,-5.8,-2.3,-4.6,-5.8,-6.9],
  tickDates:dTickDates,tickLabels:dTickLabels,valueTicks:dValueTicks,bandDays:dBandDays,bandHigh:dBandHigh,bandLow:dBandLow,
  ridgeStart:dRidgeStartDay,ridgeStep:dRidgeStepDays,ridgeHigh:dRidgeHigh,
  spikeDays:dSpikeDays,spikeHigh:dSpikeHigh,outlierDays:dOutlierDays,outlierValues:dOutlierValues,
  satStart:dSatStartDay,satStep:dSatStepDays,satBase:dSatBase,satUpperStart:dSatUpperStartDay,satUpperStep:dSatUpperStepDays,satUpper:dSatUpper,satExtraDays:dSatExtraDays,satExtraValues:dSatExtraValues});
</script>
</body>
</html>
